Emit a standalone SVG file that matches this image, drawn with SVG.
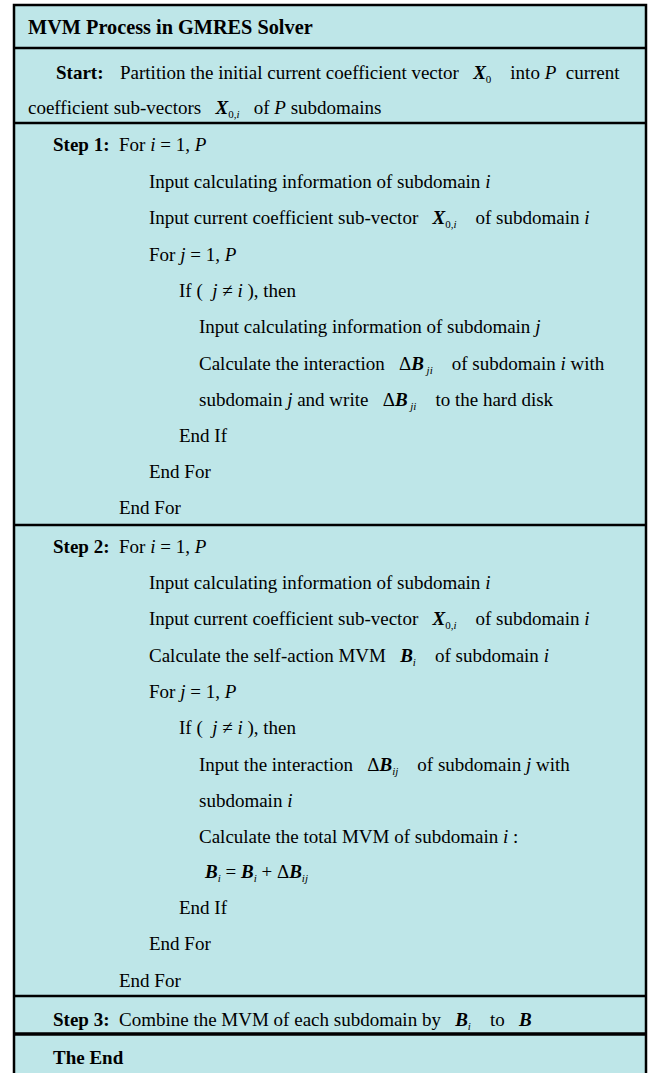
<svg xmlns="http://www.w3.org/2000/svg" width="655" height="1073" viewBox="0 0 655 1073">
<style>
.t{font-family:"Liberation Serif","Times New Roman",serif;font-size:19px;fill:#000;white-space:pre}
.h{font-size:20.3px}
.b{font-weight:bold}
.i{font-style:italic}
.bi{font-weight:bold;font-style:italic}
.s{font-size:11px}
.frame{fill:#bee6e8;stroke:#000;stroke-width:2.5}
.sep{stroke:#000;stroke-width:2.5}
.sep2{stroke:#000;stroke-width:3.5}
</style>
<rect width="655" height="1073" fill="#fff"/>
<g id="frame">
<rect class="frame" x="14" y="5" width="632" height="1090"/>
</g>
<g id="connectors">
<line class="sep" x1="14" y1="48" x2="646" y2="48"/>
<line class="sep" x1="14" y1="123" x2="646" y2="123"/>
<line class="sep" x1="14" y1="525" x2="646" y2="525"/>
<line class="sep" x1="14" y1="996" x2="646" y2="996"/>
<line class="sep2" x1="14" y1="1034" x2="646" y2="1034"/>
</g>
<g id="header">
<text class="t b h" x="28" y="34">MVM Process in GMRES Solver</text>
</g>
<g id="start">
<text class="t" x="56" y="79"><tspan class="b">Start:</tspan><tspan x="120">Partition the initial current coefficient vector   </tspan><tspan class="bi">X</tspan><tspan class="s" dy="4">0</tspan><tspan dy="-4">    into </tspan><tspan class="i">P</tspan>  current</text>
<text class="t" x="28" y="114">coefficient sub-vectors   <tspan class="bi">X</tspan><tspan class="s" dy="4">0,<tspan class="i">i</tspan></tspan><tspan dy="-4">   of </tspan><tspan class="i">P</tspan> subdomains</text>
</g>
<g id="step1">
<text class="t" x="53" y="151"><tspan class="b">Step 1:</tspan>  For <tspan class="i">i</tspan> = 1, <tspan class="i">P</tspan></text>
<text class="t" x="149" y="188">Input calculating information of subdomain <tspan class="i">i</tspan></text>
<text class="t" x="149" y="224">Input current coefficient sub-vector   <tspan class="bi">X</tspan><tspan class="s" dy="4">0,<tspan class="i">i</tspan></tspan><tspan dy="-4">    of subdomain </tspan><tspan class="i">i</tspan></text>
<text class="t" x="149" y="261">For <tspan class="i">j</tspan> = 1, <tspan class="i">P</tspan></text>
<text class="t" x="179" y="297">If (  <tspan class="i">j</tspan> ≠ <tspan class="i">i</tspan> ), then</text>
<text class="t" x="199" y="333">Input calculating information of subdomain <tspan class="i">j</tspan></text>
<text class="t" x="199" y="370">Calculate the interaction   Δ<tspan class="bi">B</tspan><tspan class="s i" dy="4"> ji</tspan><tspan dy="-4">    of subdomain </tspan><tspan class="i">i</tspan> with</text>
<text class="t" x="199" y="406">subdomain <tspan class="i">j</tspan> and write   Δ<tspan class="bi">B</tspan><tspan class="s i" dy="4"> ji</tspan><tspan dy="-4">    to the hard disk</tspan></text>
<text class="t" x="179" y="442">End If</text>
<text class="t" x="149" y="478">End For</text>
<text class="t" x="119" y="514">End For</text>
</g>
<g id="step2">
<text class="t" x="53" y="553"><tspan class="b">Step 2:</tspan>  For <tspan class="i">i</tspan> = 1, <tspan class="i">P</tspan></text>
<text class="t" x="149" y="589">Input calculating information of subdomain <tspan class="i">i</tspan></text>
<text class="t" x="149" y="625">Input current coefficient sub-vector   <tspan class="bi">X</tspan><tspan class="s" dy="4">0,<tspan class="i">i</tspan></tspan><tspan dy="-4">    of subdomain </tspan><tspan class="i">i</tspan></text>
<text class="t" x="149" y="662">Calculate the self-action MVM   <tspan class="bi">B</tspan><tspan class="s i" dy="4">i</tspan><tspan dy="-4">    of subdomain </tspan><tspan class="i">i</tspan></text>
<text class="t" x="149" y="698">For <tspan class="i">j</tspan> = 1, <tspan class="i">P</tspan></text>
<text class="t" x="179" y="734">If (  <tspan class="i">j</tspan> ≠ <tspan class="i">i</tspan> ), then</text>
<text class="t" x="199" y="771">Input the interaction   Δ<tspan class="bi">B</tspan><tspan class="s i" dy="4">ij</tspan><tspan dy="-4">    of subdomain </tspan><tspan class="i">j</tspan> with</text>
<text class="t" x="199" y="807">subdomain <tspan class="i">i</tspan></text>
<text class="t" x="199" y="843">Calculate the total MVM of subdomain <tspan class="i">i</tspan> :</text>
<text class="t" x="205" y="878"><tspan class="bi">B</tspan><tspan class="s i" dy="4">i</tspan><tspan dy="-4"> = </tspan><tspan class="bi">B</tspan><tspan class="s i" dy="4">i</tspan><tspan dy="-4"> + Δ</tspan><tspan class="bi">B</tspan><tspan class="s i" dy="4">ij</tspan></text>
<text class="t" x="179" y="914">End If</text>
<text class="t" x="149" y="950">End For</text>
<text class="t" x="119" y="987">End For</text>
</g>
<g id="step3">
<text class="t" x="53" y="1026"><tspan class="b">Step 3:</tspan>  Combine the MVM of each subdomain by   <tspan class="bi">B</tspan><tspan class="s i" dy="4">i</tspan><tspan dy="-4">    to   </tspan><tspan class="bi">B</tspan></text>
</g>
<g id="end">
<text class="t b" x="53" y="1064">The End</text>
</g>
</svg>
